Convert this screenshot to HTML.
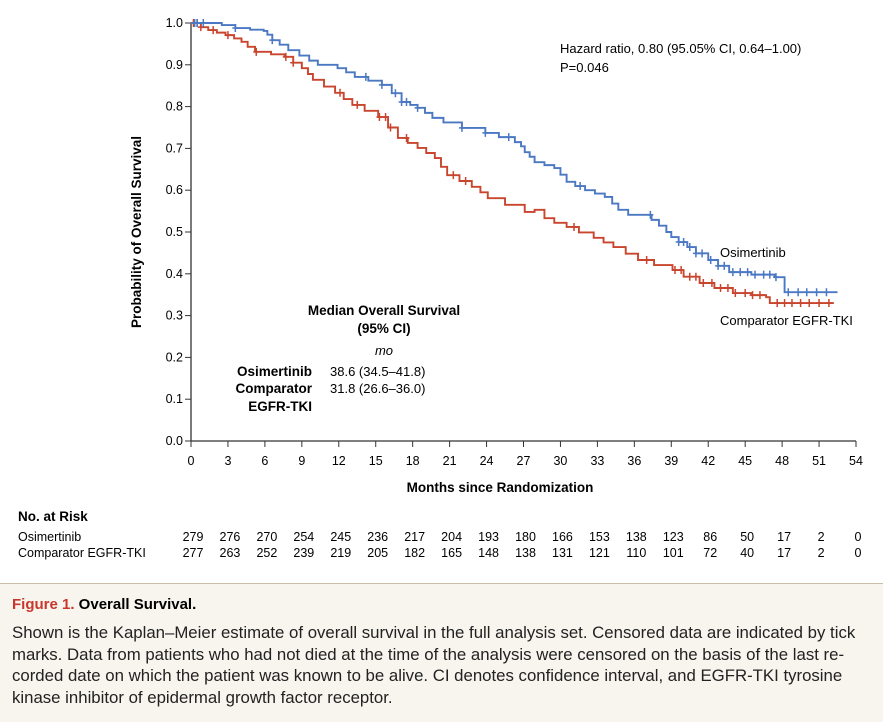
<!DOCTYPE html>
<html><head><meta charset="utf-8"><style>
body{margin:0;width:883px;height:721px;background:#fff;font-family:"Liberation Sans",sans-serif;overflow:hidden;position:relative}
svg text{font-family:"Liberation Sans",sans-serif}
#cap{position:absolute;left:0;top:583px;width:883px;height:138px;background:#f8f5ee;border-top:1px solid #c9bfa8}
</style></head><body>
<svg id="chart" width="883" height="583" style="position:absolute;left:0;top:0"></svg>
<div id="cap">
<div style="position:absolute;left:12px;top:12px;font-size:15px;font-weight:bold"><span style="color:#c8372d">Figure 1.</span> Overall Survival.</div>
<div style="position:absolute;left:12px;top:38px;white-space:nowrap;font-size:16.8px;line-height:21.7px;color:#222">Shown is the Kaplan–Meier estimate of overall survival in the full analysis set. Censored data are indicated by tick<br>marks. Data from patients who had not died at the time of the analysis were censored on the basis of the last re-<br>corded date on which the patient was known to be alive. CI denotes confidence interval, and EGFR-TKI tyrosine<br>kinase inhibitor of epidermal growth factor receptor.</div>
</div>
<script>
const osiMonths=[0,2.5,3.6,4.8,5.9,6.2,6.6,7.2,7.9,8.8,9.6,10.3,11.9,12.6,13.3,14.4,15.5,16.3,17.1,17.8,18.4,19.0,19.6,20.5,22.0,23.9,25.0,26.3,26.8,27.1,27.5,27.9,28.7,29.5,30.0,30.5,31.2,32.0,32.8,33.6,34.2,34.7,35.5,37.4,38.0,38.6,39.0,39.6,40.3,41.0,42.0,42.8,43.7,45.5,47.4,48.2,52.5];
const osiSurv=[1.0,0.995,0.988,0.984,0.981,0.972,0.959,0.948,0.935,0.922,0.91,0.90,0.892,0.882,0.871,0.862,0.852,0.832,0.811,0.804,0.797,0.785,0.773,0.762,0.749,0.737,0.727,0.715,0.705,0.691,0.68,0.667,0.66,0.653,0.637,0.62,0.61,0.60,0.592,0.584,0.568,0.553,0.541,0.529,0.515,0.5,0.488,0.476,0.464,0.449,0.433,0.419,0.404,0.398,0.392,0.356,0.356];
const cmpMonths=[0,0.8,1.4,2.1,2.8,3.5,4.1,4.6,5.2,6.5,7.6,8.3,9.0,9.5,9.9,10.8,11.7,12.4,13.1,14.1,15.2,16.0,16.8,17.6,18.4,19.1,19.8,20.3,20.8,21.8,22.8,23.5,24.1,25.5,27.1,27.9,28.7,29.5,30.5,31.5,32.7,33.5,34.3,35.3,36.3,37.6,39.1,40.0,41.3,42.5,44.0,45.5,46.7,47.0,52.2];
const cmpSurv=[1.0,0.99,0.983,0.977,0.971,0.963,0.955,0.943,0.931,0.925,0.919,0.905,0.892,0.878,0.864,0.848,0.833,0.818,0.804,0.79,0.775,0.75,0.725,0.713,0.701,0.689,0.677,0.656,0.636,0.622,0.608,0.595,0.581,0.565,0.548,0.553,0.533,0.522,0.512,0.499,0.486,0.475,0.464,0.448,0.433,0.421,0.409,0.393,0.378,0.366,0.354,0.349,0.344,0.33,0.33];
const osiCens=[0.3,0.5,1,3.6,6.6,14.2,15.5,16.6,17.1,17.5,18.4,22,23.9,25.8,31.6,37.3,39.6,40,40.5,41,41.5,42.2,42.8,43.3,44,44.6,45.2,45.8,46.5,47,47.5,48.5,49.3,50,50.8,51.6];
const cmpCens=[0.2,0.5,0.8,1.8,3,5.3,7.7,8.3,12.1,13.5,15.3,15.8,16.2,17.5,21.3,22.3,31.1,37,39.3,39.8,40.5,41,41.6,42.3,43,43.6,44.2,45,45.6,46.2,47.6,48.2,48.8,49.5,50.2,51,51.8];
const xTicks=[0,3,6,9,12,15,18,21,24,27,30,33,36,39,42,45,48,51,54];
const yTicks=[0,0.1,0.2,0.3,0.4,0.5,0.6,0.7,0.8,0.9,1.0];
const riskOsi=[279,276,270,254,245,236,217,204,193,180,166,153,138,123,86,50,17,2,0];
const riskCmp=[277,263,252,239,219,205,182,165,148,138,131,121,110,101,72,40,17,2,0];
const X=m=>191+m*12.315, Y=s=>441-s*418;
const svg=document.getElementById('chart');const NS='http://www.w3.org/2000/svg';
function el(t,a,txt){const e=document.createElementNS(NS,t);for(const k in a)e.setAttribute(k,a[k]);if(txt!==undefined)e.textContent=txt;svg.appendChild(e);return e;}
let e=el('line',{x1:191,y1:23,x2:191,y2:441,stroke:'#333','stroke-width':1.3});


e=el('line',{x1:191,y1:441,x2:856,y2:441,stroke:'#333','stroke-width':1.3});


yTicks.forEach(v=>{el('line',{x1:185,x2:191,y1:Y(v),y2:Y(v),stroke:'#333'});
 const t=el('text',{x:183,y:Y(v)+4,'text-anchor':'end','font-size':12.5},v.toFixed(1));
 
 });
xTicks.forEach((v,i)=>{el('line',{x1:X(v),x2:X(v),y1:441,y2:447,stroke:'#333'});
 const t=el('text',{x:X(v),y:465,'text-anchor':'middle','font-size':12.5},v);
 
 
 const a=el('text',{x:X(v)+2,y:541,'text-anchor':'middle','font-size':12.5},riskOsi[i]);
 
 
 const b=el('text',{x:X(v)+2,y:557,'text-anchor':'middle','font-size':12.5},riskCmp[i]);
 
 });
function step(ms,ss){let d='M'+X(ms[0])+','+Y(ss[0]);for(let i=1;i<ms.length;i++){d+='H'+X(ms[i])+'V'+Y(ss[i]);}return d;}
function survAt(ms,ss,m){let s=ss[0];for(let i=0;i<ms.length;i++)if(ms[i]<=m)s=ss[i];return s;}
[[cmpMonths,cmpSurv,cmpCens,'#c9452e','comparator'],[osiMonths,osiSurv,osiCens,'#4a78c2','osimertinib']].forEach(([ms,ss,cs,c,n])=>{
 const p=el('path',{d:step(ms,ss),fill:'none',stroke:c,'stroke-width':1.9});
 
 
 cs.forEach(m=>{const y=Y(survAt(ms,ss,m));const t=el('path',{d:`M${X(m)},${y-4}V${y+4}M${X(m)-3},${y}H${X(m)+3}`,stroke:c,'stroke-width':1.5});
 
 });
});
function T(x,y,s,txt,extra,name){const t=el('text',Object.assign({x:x,y:y,'font-size':s},extra||{}),txt);return t;}
T(560,53,13,'Hazard ratio, 0.80 (95.05% CI, 0.64–1.00)',{},'hazard-ratio');
T(560,72,13,'P=0.046',{},'p-value');
T(720,257,13,'Osimertinib',{},'osimertinib-label');
T(720,325,13,'Comparator EGFR-TKI',{},'comparator-label');
T(384,315,13.5,'Median Overall Survival',{'text-anchor':'middle','font-weight':'bold'},'median-title');
T(384,333,13.5,'(95% CI)',{'text-anchor':'middle','font-weight':'bold'},'median-ci');
T(384,355,13,'mo',{'text-anchor':'middle','font-style':'italic'},'median-unit');
T(312,376,13.5,'Osimertinib',{'text-anchor':'end','font-weight':'bold'},'median-osi-label');
T(312,393,13.5,'Comparator',{'text-anchor':'end','font-weight':'bold'},'median-cmp-label');
T(312,411,13.5,'EGFR-TKI',{'text-anchor':'end','font-weight':'bold'},'median-cmp-label2');
T(330,376,13,'38.6 (34.5–41.8)',{},'median-osi-value');
T(330,393,13,'31.8 (26.6–36.0)',{},'median-cmp-value');
T(500,492,13.5,'Months since Randomization',{'text-anchor':'middle','font-weight':'bold'},'x-axis-title');
T(0,0,13.5,'Probability of Overall Survival',{'text-anchor':'middle','font-weight':'bold',transform:'translate(141,232) rotate(-90)'},'y-axis-title');
T(18,521,13.5,'No. at Risk',{'font-weight':'bold'},'risk-title');
T(18,541,12.5,'Osimertinib',{},'risk-osi-label');
T(18,557,12.5,'Comparator EGFR-TKI',{},'risk-cmp-label');
</script>
</body></html>
